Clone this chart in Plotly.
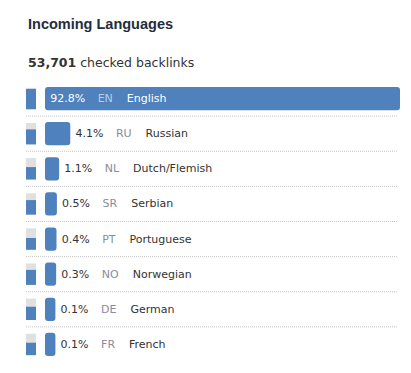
import plotly.graph_objects as go

# ---- data ----
codes = ["EN", "RU", "NL", "SR", "PT", "NO", "DE", "FR"]
names = ["English", "Russian", "Dutch/Flemish", "Serbian", "Portuguese", "Norwegian", "German", "French"]
pcts = [92.8, 4.1, 1.1, 0.5, 0.4, 0.3, 0.1, 0.1]
gauge = [0.95, 0.70, 0.58, 0.68, 0.55, 0.70, 0.62, 0.58]
total_checked = "53,701"
title = "Incoming Languages"

# ---- style ----
BLUE = "#4f81bd"
GRAY = "#e0e0e0"
TXT = "#333333"
FONT = "DejaVu Sans"
OFF = 8  # page body margin
W, H = 411 - OFF, 373 - OFF
ML, MR, MT, MB = 26 - OFF, 11, 81 - OFF, 11
PW = W - ML - MR
MIN_W = 2.7  # minimum bar length in % units
BAR_W = 0.66
G_W = 0.61

rows = list(range(len(codes)))
LEAD = "\u2009"
SP3 = "\u2002\u00a0\u00a0"
SP4 = "\u00a0\u00a0\u00a0\u00a0"

texts, positions = [], []
for i, (p, c, n) in enumerate(zip(pcts, codes, names)):
    if i == 0:
        texts.append(f"{LEAD}{p:.1f}%{SP3}<span style='color:#b9cbe6'>{c}</span>{SP4}{n}")
        positions.append("inside")
    else:
        texts.append(f"{LEAD}{p:.1f}%{SP3}<span style='color:#8a8c9e'>{c}</span>{SP4}{n}")
        positions.append("outside")

fig = go.Figure()

# gauge background
fig.add_trace(go.Bar(
    y=rows, x=[1] * len(rows), base=[0] * len(rows), orientation="h",
    width=G_W, offset=-G_W / 2, marker=dict(color=GRAY, line=dict(width=0)),
    xaxis="x2", yaxis="y", hoverinfo="skip", showlegend=False,
))
# gauge fill (bottom aligned)
fig.add_trace(go.Bar(
    y=rows, x=[1] * len(rows), base=[0] * len(rows), orientation="h",
    width=[g * G_W for g in gauge], offset=[G_W / 2 - g * G_W for g in gauge],
    marker=dict(color=BLUE, line=dict(width=0)),
    xaxis="x2", yaxis="y", hoverinfo="skip", showlegend=False,
))
# main bars
fig.add_trace(go.Bar(
    y=rows, x=[p + MIN_W for p in pcts], base=[-MIN_W] * len(rows), orientation="h",
    width=BAR_W, marker=dict(color=BLUE, line=dict(width=0), cornerradius=3),
    text=texts, textposition=positions, insidetextanchor="start",
    textangle=0, constraintext="none", cliponaxis=False,
    insidetextfont=dict(family=FONT, size=11, color="white"),
    outsidetextfont=dict(family=FONT, size=11, color=TXT),
    xaxis="x", yaxis="y", hoverinfo="skip", showlegend=False,
))

# row separators
for i in rows[:-1]:
    fig.add_shape(type="line", xref="paper", yref="y",
                  x0=0, x1=(397 - 26) / PW, y0=i + 0.5, y1=i + 0.5,
                  line=dict(color="#c4c4c4", width=1, dash="1px,1px"))

def py(Y):
    return (H - MB - (Y - OFF)) / (H - MT - MB)

fig.add_annotation(text=f"<b>{title}</b>", xref="paper", yref="paper",
                   x=0, y=py(24.5), xanchor="left", yanchor="middle", showarrow=False,
                   font=dict(family="Liberation Sans", size=14.5, color="#1f2d3d"))
fig.add_annotation(text=f"<b>{total_checked}</b> checked backlinks", xref="paper", yref="paper",
                   x=0, y=py(62), xanchor="left", yanchor="middle", showarrow=False,
                   font=dict(family=FONT, size=12.5, color=TXT))

axis_off = dict(showticklabels=False, showgrid=False, zeroline=False, showline=False, ticks="")
fig.update_layout(
    width=W, height=H, margin=dict(l=ML, r=MR, t=MT, b=MB),
    paper_bgcolor="white", plot_bgcolor="white", barmode="overlay",
    xaxis=dict(domain=[(45 - 26) / PW, 1], range=[-MIN_W, max(pcts)], **axis_off),
    xaxis2=dict(domain=[0, 10 / PW], range=[0, 1], anchor="y", **axis_off),
    yaxis=dict(range=[len(rows) - 0.5, -0.5], **axis_off),
    font=dict(family=FONT),
)

fig.write_html("out.html")
